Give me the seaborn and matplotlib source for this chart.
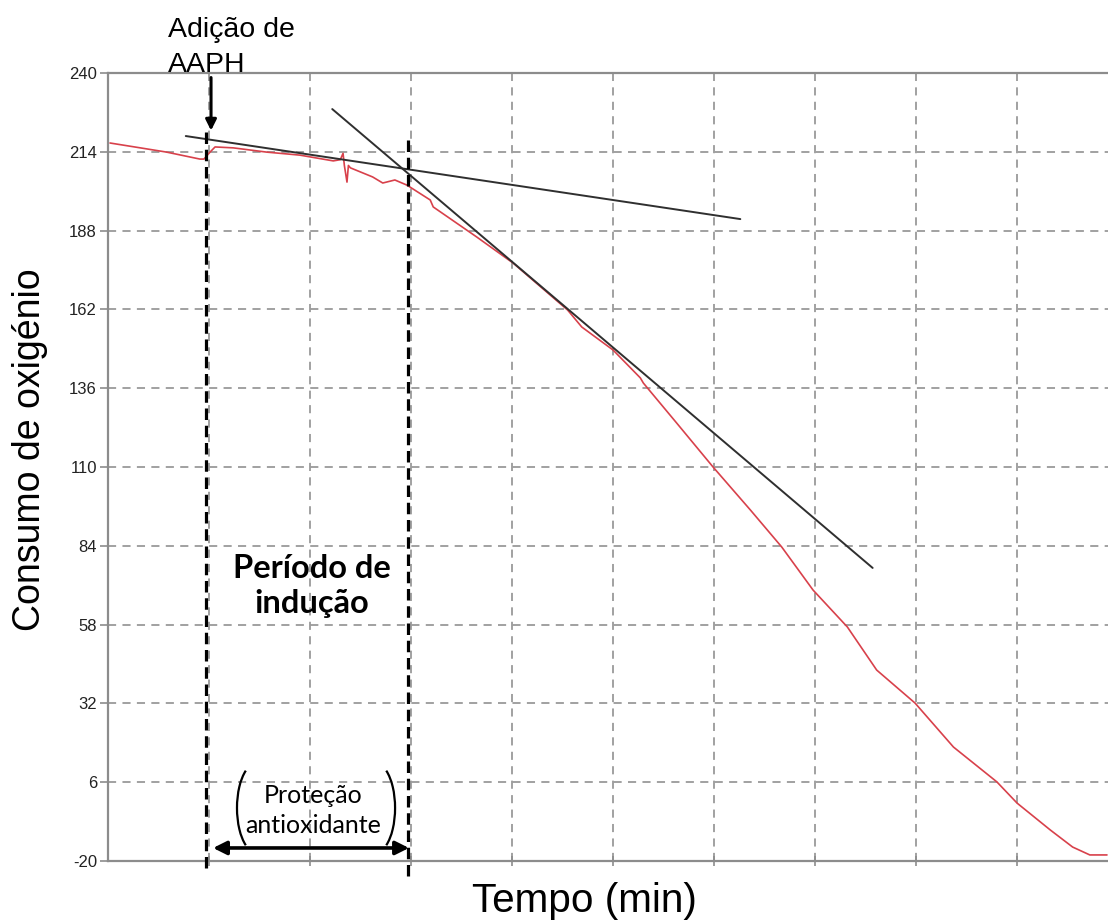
import numpy as np
import pandas as pd
import matplotlib
matplotlib.use("Agg")
import matplotlib.pyplot as plt
from matplotlib.patches import Arc
import seaborn as sns

# Oxygen-consumption trace (time in min, signal)
tempo = [0.2, 3.2, 5.8, 9.1, 9.5, 10.1, 10.6, 12.4, 15.7, 19.0, 22.3, 23.0,
         23.27, 23.4, 23.66, 23.8, 24.0, 26.2, 27.2, 28.4, 29.6, 31.9, 32.2,
         36.5, 40.1, 45.5, 46.9, 50.0, 52.7, 53.0, 56.3, 59.9, 63.6, 66.7,
         69.8, 73.2, 76.1, 79.9, 83.7, 88.0, 90.0, 93.3, 95.5, 97.2, 98.9]
oxigenio = [216.9, 215.3, 213.9, 211.6, 211.6, 213.9, 215.6, 215.3, 213.9,
            212.9, 211.0, 211.4, 213.5, 209.5, 204.0, 209.5, 208.7, 205.7,
            203.7, 204.7, 203.0, 198.1, 195.8, 185.9, 177.3, 161.8, 156.2,
            148.6, 139.4, 137.7, 124.5, 110.0, 95.8, 83.6, 69.4, 57.2, 43.0,
            32.1, 17.6, 6.1, -0.9, -9.8, -15.4, -18.0, -18.0]

# Tangent lines (start/end points)
tang1_x = [7.7, 62.6]
tang1_y = [219.2, 191.8]
tang2_x = [22.2, 75.7]
tang2_y = [228.1, 76.7]

# Event markers
t_aaph = 9.7
t_fim = 29.7

y_ticks = [-20, 6, 32, 58, 84, 110, 136, 162, 188, 214, 240]
x_ticks = [10, 20, 30, 40, 50, 60, 70, 80, 90]

sns.set_theme(style="white")
plt.rcParams["font.family"] = ["Liberation Sans", "DejaVu Sans"]
plt.rcParams["text.color"] = "black"

W, H = 1108, 923
fig = plt.figure(figsize=(W / 100, H / 100), dpi=100)
ax = fig.add_axes([108 / W, (H - 861) / H, 1000 / W, (861 - 73) / H])

df = pd.DataFrame({"tempo": tempo, "oxigenio": oxigenio})
sns.lineplot(data=df, x="tempo", y="oxigenio", ax=ax, color="#d8414b",
             linewidth=1.2, estimator=None, sort=False, zorder=4)

ax.plot(tang1_x, tang1_y, color="#2f2f2f", lw=1.4, zorder=5)
ax.plot(tang2_x, tang2_y, color="#2f2f2f", lw=1.4, zorder=5)

ax.set_xlim(0, 99.0)
ax.set_ylim(-20, 240)
ax.set_yticks(y_ticks)
ax.set_yticklabels([str(v) for v in y_ticks])
ax.set_xticks(x_ticks)
ax.set_xticklabels([])
ax.set_xlabel("")
ax.set_ylabel("")

ax.grid(True, linestyle=(0, (4.5, 3.5)), color="#9a9a9a", lw=1.3, zorder=1)
ax.set_axisbelow(True)

for side in ["left", "top", "bottom"]:
    ax.spines[side].set_color("#8c8c8c")
    ax.spines[side].set_linewidth(1.6)
ax.spines["right"].set_visible(False)

ax.tick_params(axis="y", which="both", left=True, direction="out", length=6,
               width=1.2, color="#8c8c8c", labelsize=12, labelcolor="#222222",
               pad=2)
ax.tick_params(axis="x", which="both", bottom=True, direction="inout",
               length=7, width=1.2, color="#8c8c8c")

# Induction-period boundaries
ax.plot([t_aaph, t_aaph], [220.5, -23.6], color="black", lw=2.3,
        linestyle=(0, (3.6, 1.8)), clip_on=False, zorder=6)
ax.plot([t_fim, t_fim], [217.9, -25.6], color="black", lw=2.3,
        linestyle=(0, (3.6, 1.8)), clip_on=False, zorder=6)

# AAPH addition arrow
ax.annotate("", xy=(10.2, 221.0), xytext=(10.2, 238.5),
            arrowprops=dict(arrowstyle="-|>", color="black", lw=2.2,
                            mutation_scale=16, shrinkA=0, shrinkB=0),
            annotation_clip=False, zorder=7)

# Double arrow for the antioxidant-protection window
ax.annotate("", xy=(10.4, -15.7), xytext=(29.8, -15.7),
            arrowprops=dict(arrowstyle="<|-|>", color="black", lw=2.6,
                            mutation_scale=20, shrinkA=0, shrinkB=0),
            annotation_clip=False, zorder=7)

fig.text(168 / W, 1 - 17 / H, "Adição de\nAAPH", fontsize=20.5,
         ha="left", va="top", linespacing=1.45, color="black")

ax.text(20.2, 70.8, "Período de\nindução", fontsize=23.5, fontweight="bold",
        family=["Lato", "DejaVu Sans"], ha="center", va="center",
        linespacing=1.25, color="black", zorder=8)

ax.text(20.3, -3.3, "Proteção\nantioxidante", fontsize=18,
        family=["Lato", "DejaVu Sans"], ha="center", va="center",
        linespacing=1.35, color="black", zorder=8)


def paren_angles(a, b, t1, t2):
    """Convert parametric ellipse angles to the true angles Arc expects."""
    r1 = np.degrees(np.arctan2(b * np.sin(np.radians(t1)), a * np.cos(np.radians(t1))))
    r2 = np.degrees(np.arctan2(b * np.sin(np.radians(t2)), a * np.cos(np.radians(t2))))
    return r1, r2


# Bracketing parentheses around the protection label
pw, ph = 3.96, 29.7
l1, l2 = paren_angles(pw / 2, ph / 2, 124, 236)
r1, r2 = paren_angles(pw / 2, ph / 2, -56, 56)
l1, l2 = l1 % 360, l2 % 360
ax.add_patch(Arc((14.75, -2.5), pw, ph, theta1=l1, theta2=l2,
                 color="black", lw=1.6, zorder=8))
ax.add_patch(Arc((26.44, -2.5), pw, ph, theta1=r1, theta2=r2,
                 color="black", lw=1.6, zorder=8))

fig.text(30 / W, 1 - 450 / H, "Consumo de oxigénio", fontsize=27,
         rotation=90, ha="center", va="center", color="black")
fig.text(584 / W, 1 - 901 / H, "Tempo (min)", fontsize=29.2,
         ha="center", va="center", color="black")

fig.savefig("out.png", dpi=100, facecolor="white")
